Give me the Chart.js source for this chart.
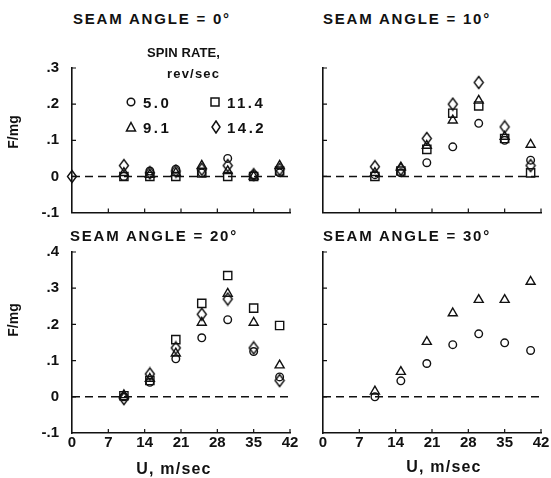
<!DOCTYPE html>
<html>
<head>
<meta charset="utf-8">
<script src="https://cdn.jsdelivr.net/npm/chart.js@4.4.0/dist/chart.umd.min.js"></script>
<style>
body { margin: 0; background: #fff; }
#wrap { position: relative; width: 551px; height: 478px; overflow: hidden;
        font-family: "Liberation Sans", Arial, sans-serif; font-weight: bold; color: #111; }
canvas { position: absolute; }
.t { position: absolute; white-space: nowrap; line-height: 1; }
.title { font-size: 15px; letter-spacing: 1.8px; }
.num { font-size: 15px; letter-spacing: 2.5px; }
.ylab { font-size: 14px; transform: translate(-50%, -50%) rotate(-90deg); }
.xlab { font-size: 16px; letter-spacing: 1.2px; transform: translateX(-50%); }
</style>
</head>
<body>
<div id="wrap">
  <canvas id="c0" width="300" height="170" style="left:0;top:50px"></canvas>
  <canvas id="c10" width="251" height="170" style="left:300px;top:50px"></canvas>
  <canvas id="c20" width="300" height="248" style="left:0;top:230px"></canvas>
  <canvas id="c30" width="251" height="248" style="left:300px;top:230px"></canvas>

  <div class="t title" style="left:73px;top:11px">SEAM ANGLE = 0°</div>
  <div class="t title" style="left:323px;top:11px">SEAM ANGLE = 10°</div>
  <div class="t title" style="left:70px;top:228px">SEAM ANGLE = 20°</div>
  <div class="t title" style="left:323px;top:228px">SEAM ANGLE = 30°</div>

  <div class="t ylab" style="left:13px;top:132px">F/mg</div>
  <div class="t ylab" style="left:13px;top:320px">F/mg</div>
  <div class="t xlab" style="left:174px;top:461px">U, m/sec</div>
  <div class="t xlab" style="left:444px;top:459px">U, m/sec</div>

  <div class="t" style="left:147px;top:46px;font-size:13px;letter-spacing:0.1px">SPIN RATE,</div>
  <div class="t" style="left:167px;top:67px;font-size:13px;letter-spacing:1.2px">rev/sec</div>

  <svg class="t" style="left:125px;top:96px" width="12" height="12"><circle cx="6" cy="6" r="3.8" fill="none" stroke="#111" stroke-width="1.5"/></svg>
  <div class="t num" style="left:143px;top:95px">5.0</div>
  <svg class="t" style="left:209px;top:96px" width="12" height="12"><rect x="2" y="2" width="8" height="8" fill="none" stroke="#111" stroke-width="1.5"/></svg>
  <div class="t num" style="left:227px;top:95px">11.4</div>
  <svg class="t" style="left:125px;top:121px" width="12" height="12"><path d="M6 1.5 L10.5 10 L1.5 10 Z" fill="none" stroke="#111" stroke-width="1.5"/></svg>
  <div class="t num" style="left:143px;top:120px">9.1</div>
  <svg class="t" style="left:210px;top:120px" width="12" height="14"><path d="M6 1 L10 7 L6 13 L2 7 Z" fill="none" stroke="#111" stroke-width="1.5"/></svg>
  <div class="t num" style="left:227px;top:120px">14.2</div>
</div>

<script>
// wind speed U (m/sec) for every measured column
var speeds = [10, 15, 20, 25, 30, 35, 40];
var spinRates = ["5.0", "9.1", "11.4", "14.2"];

var xTickLabels = ["0", "7", "14", "21", "28", "35", "42"];
var yTickLabelsTop = ["-.1", "0", ".1", ".2", ".3"];
var yTickLabelsBottom = ["-.1", "0", ".1", ".2", ".3", ".4"];

// seam angle = 0 deg
var a0Spin50  = [0.0, 0.015, 0.02, 0.01, 0.05, 0.005, 0.01];
var a0Spin91  = [0.01, 0.005, 0.01, 0.03, 0.015, 0.0, 0.03];
var a0Spin114 = [0.0, 0.0, 0.0, 0.01, 0.0, 0.0, 0.015];
var a0Spin142 = [0.03, 0.01, 0.015, 0.02, 0.03, 0.005, 0.02];
var a0Spin142AtRest = [0];   // extra point sitting at U = 0

// seam angle = 10 deg
var a10Spin50  = [0.005, 0.01, 0.038, 0.082, 0.147, 0.1, 0.045];
var a10Spin91  = [0.01, 0.025, 0.085, 0.155, 0.21, 0.11, 0.088];
var a10Spin114 = [0.0, 0.015, 0.075, 0.175, 0.195, 0.105, 0.01];
var a10Spin142 = [0.027, 0.02, 0.105, 0.2, 0.26, 0.137, 0.03];

// seam angle = 20 deg
var a20Spin50  = [0.0, 0.04, 0.105, 0.163, 0.213, 0.125, 0.055];
var a20Spin91  = [0.005, 0.05, 0.12, 0.205, 0.285, 0.205, 0.087];
var a20Spin114 = [0.003, 0.045, 0.158, 0.258, 0.335, 0.245, 0.197];
var a20Spin142 = [-0.005, 0.063, 0.135, 0.228, 0.27, 0.135, 0.045];

// seam angle = 30 deg (only two spin rates)
var a30Spin50 = [0.0, 0.044, 0.092, 0.144, 0.174, 0.149, 0.128];
var a30Spin91 = [0.015, 0.069, 0.152, 0.231, 0.268, 0.268, 0.318];

var ink = "#111";

function tallDiamond() {
    var c = document.createElement("canvas");
    c.width = 12; c.height = 15;
    var g = c.getContext("2d");
    g.strokeStyle = ink; g.lineWidth = 1.4;
    g.beginPath();
    g.moveTo(6, 1.5); g.lineTo(10.5, 7.5); g.lineTo(6, 13.5); g.lineTo(1.5, 7.5);
    g.closePath(); g.stroke();
    return c;
}
var diamondStyle = tallDiamond();

var markers = {
    "5.0":  { pointStyle: "circle",   radius: 3.8 },
    "9.1":  { pointStyle: "triangle", radius: 5.2 },
    "11.4": { pointStyle: "rect",     radius: 5.8 },
    "14.2": { pointStyle: diamondStyle, radius: 6 }
};

function series(rate, xs, ys) {
    var m = markers[rate];
    return {
        label: rate,
        data: ys.map(function (v, i) { return { x: xs[i], y: v }; }),
        pointStyle: m.pointStyle,
        pointRadius: m.radius,
        pointHoverRadius: m.radius,
        borderColor: ink,
        backgroundColor: "rgba(0,0,0,0)",
        pointBorderWidth: 1.4,
        showLine: false,
        clip: false
    };
}

// dashed zero line and inward tick marks
var panelDecor = {
    id: "panelDecor",
    beforeDatasetsDraw: function (chart) {
        var ctx = chart.ctx, xs = chart.scales.x, ys = chart.scales.y, a = chart.chartArea;
        ctx.save();
        ctx.strokeStyle = ink;
        ctx.lineWidth = 1.6;
        ctx.setLineDash([8, 5]);
        var y0 = ys.getPixelForValue(0);
        ctx.beginPath();
        ctx.moveTo(a.left, y0);
        ctx.lineTo(a.right, y0);
        ctx.stroke();
        ctx.setLineDash([]);
        ctx.lineWidth = 1.2;
        ctx.beginPath();
        ys.ticks.forEach(function (t, i) {
            if (i === 0) return;
            var p = ys.getPixelForValue(t.value);
            ctx.moveTo(a.left, p);
            ctx.lineTo(a.left + 4, p);
        });
        xs.ticks.forEach(function (t, i) {
            if (i === 0) return;
            var p = xs.getPixelForValue(t.value);
            ctx.moveTo(p, a.bottom);
            ctx.lineTo(p, a.bottom - 4);
        });
        ctx.stroke();
        ctx.restore();
    }
};

function panel(id, datasets, opt) {
    var tickFont = { family: "'Liberation Sans', Arial, sans-serif", size: 15, weight: "bold" };
    return new Chart(document.getElementById(id), {
        type: "scatter",
        data: { datasets: datasets },
        options: {
            responsive: false,
            animation: false,
            events: [],
            layout: { padding: { left: 0, right: 10, top: opt.top, bottom: 0 } },
            plugins: { legend: { display: false }, tooltip: { enabled: false } },
            scales: {
                x: {
                    type: "linear", min: 0, max: 42,
                    grid: { display: false, drawTicks: false },
                    border: { display: true, color: ink, width: 1.6 },
                    ticks: {
                        display: opt.xLabels, stepSize: 7, autoSkip: false, maxRotation: 0,
                        padding: 1, color: ink, font: tickFont,
                        callback: function (v, i) { return xTickLabels[i]; }
                    },
                    afterFit: function (s) {
                        s.height = opt.xHeight;
                        s.paddingLeft = 0; s.paddingRight = 0;
                    }
                },
                y: {
                    type: "linear", min: -0.1, max: opt.yMax,
                    grid: { display: false, drawTicks: false },
                    border: { display: true, color: ink, width: 1.6 },
                    ticks: {
                        display: opt.yLabels, stepSize: 0.1, autoSkip: false,
                        padding: 13, color: ink, font: tickFont,
                        callback: function (v, i) { return opt.yTicks[i]; }
                    },
                    afterFit: function (s) {
                        s.width = opt.yWidth;
                        s.paddingTop = 0; s.paddingBottom = 0;
                    }
                }
            }
        },
        plugins: [panelDecor]
    });
}

var spin142Speeds0 = [0].concat(speeds);

panel("c0", [
    series("5.0", speeds, a0Spin50),
    series("9.1", speeds, a0Spin91),
    series("11.4", speeds, a0Spin114),
    series("14.2", spin142Speeds0, a0Spin142AtRest.concat(a0Spin142))
], { top: 18, xHeight: 6, xLabels: false, yLabels: true, yWidth: 72, yMax: 0.3, yTicks: yTickLabelsTop });

panel("c10", [
    series("5.0", speeds, a10Spin50),
    series("9.1", speeds, a10Spin91),
    series("11.4", speeds, a10Spin114),
    series("14.2", speeds, a10Spin142)
], { top: 18, xHeight: 6, xLabels: false, yLabels: false, yWidth: 23, yMax: 0.3, yTicks: yTickLabelsTop });

panel("c20", [
    series("5.0", speeds, a20Spin50),
    series("9.1", speeds, a20Spin91),
    series("11.4", speeds, a20Spin114),
    series("14.2", speeds, a20Spin142)
], { top: 22, xHeight: 45, xLabels: true, yLabels: true, yWidth: 72, yMax: 0.4, yTicks: yTickLabelsBottom });

panel("c30", [
    series("5.0", speeds, a30Spin50),
    series("9.1", speeds, a30Spin91)
], { top: 22, xHeight: 45, xLabels: true, yLabels: false, yWidth: 23, yMax: 0.4, yTicks: yTickLabelsBottom });
</script>
</body>
</html>
